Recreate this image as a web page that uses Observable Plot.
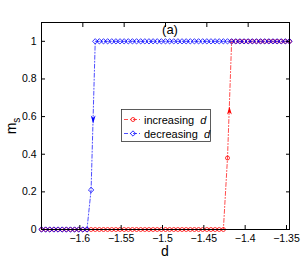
<!DOCTYPE html>
<html><head><meta charset="utf-8">
<script src="https://cdn.jsdelivr.net/npm/d3@7"></script>
<script src="https://cdn.jsdelivr.net/npm/@observablehq/plot@0.6"></script>
<style>body{margin:0;background:#fff}#chart{width:302px;height:259px}</style>
</head><body><div id="chart"></div>
<script>
const dValues = [
-1.650,-1.645,-1.640,-1.635,-1.630,-1.625,-1.620,-1.615,-1.610,-1.605,
-1.600,-1.595,-1.590,-1.585,-1.580,-1.575,-1.570,-1.565,-1.560,-1.555,
-1.550,-1.545,-1.540,-1.535,-1.530,-1.525,-1.520,-1.515,-1.510,-1.505,
-1.500,-1.495,-1.490,-1.485,-1.480,-1.475,-1.470,-1.465,-1.460,-1.455,
-1.450,-1.445,-1.440,-1.435,-1.430,-1.425,-1.420,-1.415,-1.410,-1.405,
-1.400,-1.395,-1.390,-1.385,-1.380,-1.375,-1.370,-1.365,-1.360,-1.355,
-1.350];
const msIncreasing = [
0,0,0,0,0,0,0,0,0,0,
0,0,0,0,0,0,0,0,0,0,
0,0,0,0,0,0,0,0,0,0,
0,0,0,0,0,0,0,0,0,0,
0,0,0,0,0,0.38,1,1,1,1,
1,1,1,1,1,1,1,1,1,1,
1];
const msDecreasing = [
0,0,0,0,0,0,0,0,0,0,
0,0,0.21,1,1,1,1,1,1,1,
1,1,1,1,1,1,1,1,1,1,
1,1,1,1,1,1,1,1,1,1,
1,1,1,1,1,1,1,1,1,1,
1,1,1,1,1,1,1,1,1,1,
1];
const xTicks = [-1.6,-1.55,-1.5,-1.45,-1.4,-1.35];
const yTicks = [0,0.2,0.4,0.6,0.8,1];
const seriesLabels = ["increasing", "decreasing"];
const arrowD = [-1.4227, -1.5875];
const arrowM = [0.632, 0.585];

const inc = dValues.map((x,i)=>({d:x, m:msIncreasing[i]}));
const dec = dValues.map((x,i)=>({d:x, m:msDecreasing[i]}));
const arrowsUp = [{d:arrowD[0], m:arrowM[0]}];
const arrowsDown = [{d:arrowD[1], m:arrowM[1]}];

const arrowDownSym = {draw(ctx, size){const s=Math.sqrt(size);
  ctx.moveTo(0, s*0.5); ctx.lineTo(-s*0.3, -s*0.5); ctx.lineTo(0, -s*0.2); ctx.lineTo(s*0.3, -s*0.5); ctx.closePath();}};
const arrowUpSym = {draw(ctx, size){const s=Math.sqrt(size);
  ctx.moveTo(0, -s*0.5); ctx.lineTo(-s*0.3, s*0.5); ctx.lineTo(0, s*0.2); ctx.lineTo(s*0.3, s*0.5); ctx.closePath();}};

const fmt = v => String(v).replace("-", "\u2212");
const RED = "#ff0000", BLUE = "#0000ff", DASH = "4,2,1,2";

const chart = Plot.plot({
  width: 302, height: 259,
  marginLeft: 41, marginTop: 22, marginRight: 13, marginBottom: 30,
  x: {domain: [-1.65, -1.35]},
  y: {domain: [0, 1.1]},
  style: {fontFamily: "'Liberation Sans', Arial, sans-serif", fontSize: "10.5px", color: "black", background: "white"},
  marks: [
    Plot.line(inc, {x: "d", y: "m", stroke: RED, strokeWidth: 0.7, strokeDasharray: DASH}),
    Plot.dot(inc, {x: "d", y: "m", r: 2, stroke: RED, fill: "none", strokeWidth: 0.8}),
    Plot.line(dec, {x: "d", y: "m", stroke: BLUE, strokeWidth: 0.7, strokeDasharray: DASH}),
    Plot.dot(dec, {x: "d", y: "m", r: 2.4, symbol: "diamond2", stroke: BLUE, fill: "none", strokeWidth: 0.8}),
    Plot.dot(arrowsUp, {x: "d", y: "m", r: 4.5, symbol: arrowUpSym, fill: RED, stroke: "none"}),
    Plot.dot(arrowsDown, {x: "d", y: "m", r: 4.5, symbol: arrowDownSym, fill: BLUE, stroke: "none"}),
    Plot.frame({stroke: "black"}),
    Plot.axisX(xTicks, {anchor: "bottom", tickSize: -4, tickPadding: 9, dx: -3, tickFormat: fmt, label: null}),
    Plot.axisX(xTicks, {anchor: "top", tickSize: -4, tickFormat: () => "", label: null}),
    Plot.axisY(yTicks, {anchor: "left", tickSize: -4, tickPadding: 9, tickFormat: fmt, label: null}),
    Plot.axisY(yTicks, {anchor: "right", tickSize: -4, tickFormat: () => "", label: null})
  ]
});
document.getElementById("chart").appendChild(chart);

const svg = d3.select(chart);
const ff = "'Liberation Sans', Arial, sans-serif";
// title
svg.append("text").attr("x", 170).attr("y", 34).attr("text-anchor", "middle")
  .attr("font-family", ff).attr("font-size", 13).text("(a)");
// x label
svg.append("text").attr("x", 165).attr("y", 256).attr("text-anchor", "middle")
  .attr("font-family", ff).attr("font-size", 14).text("d");
// y label
const yl = svg.append("text").attr("transform", "translate(16,126) rotate(-90)").attr("text-anchor", "middle")
  .attr("font-family", ff).attr("font-size", 14);
yl.append("tspan").text("m");
yl.append("tspan").attr("font-size", 10).attr("dy", 4).text("s");
// legend
const lg = svg.append("g");
lg.append("rect").attr("x", 121.5).attr("y", 109.5).attr("width", 89).attr("height", 32)
  .attr("fill", "white").attr("stroke", "#333").attr("stroke-width", 0.8);
const rows = [{y: 119.5, c: RED, sym: "circle"}, {y: 133.5, c: BLUE, sym: "diamond"}];
rows.forEach((r, i) => {
  lg.append("line").attr("x1", 124).attr("x2", 142).attr("y1", r.y).attr("y2", r.y)
    .attr("stroke", r.c).attr("stroke-width", 0.7).attr("stroke-dasharray", DASH);
  if (r.sym === "circle") lg.append("circle").attr("cx", 133).attr("cy", r.y).attr("r", 2).attr("fill", "none").attr("stroke", r.c).attr("stroke-width", 0.8);
  else lg.append("path").attr("d", d3.symbol(d3.symbolDiamond2, 2.4*2.4*Math.PI)()).attr("transform", `translate(133,${r.y})`).attr("fill", "none").attr("stroke", r.c).attr("stroke-width", 0.8);
  const t = lg.append("text").attr("x", 144).attr("y", r.y + 4).attr("text-anchor", "start")
    .attr("font-family", ff).attr("font-size", 11).attr("xml:space", "preserve");
  t.append("tspan").text(seriesLabels[i] + "  ");
  t.append("tspan").attr("font-style", "italic").text("d");
});
</script></body></html>
